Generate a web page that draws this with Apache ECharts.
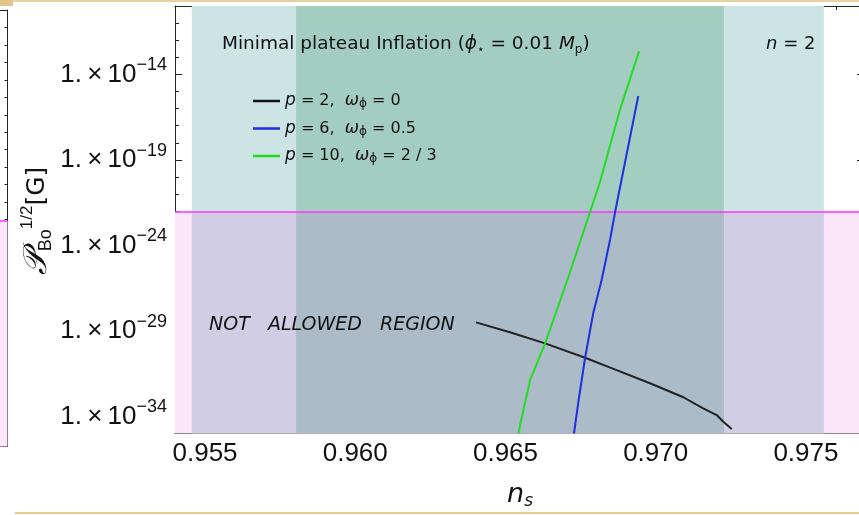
<!DOCTYPE html>
<html>
<head>
<meta charset="utf-8">
<script src="https://cdn.jsdelivr.net/npm/echarts@6/dist/echarts.min.js"></script>
<style>
html, body { margin: 0; padding: 0; background: #fff; }
#main { width: 859px; height: 515px; }
</style>
</head>
<body>
<div id="main"></div>
<script>
// tick positions
const nsMajor = [0.955, 0.960, 0.965, 0.970, 0.975];
const expMajor = [-34, -29, -24, -19, -14];

// curves: n_s and log10 of P_Bo^(1/2) [G]
const nsBlack = [0.96402, 0.96515, 0.96632, 0.96765, 0.96870, 0.96981, 0.97092, 0.97158, 0.97203, 0.97225, 0.97253];
const logPBlack = [-28.50, -29.08, -29.73, -30.57, -31.29, -32.06, -32.88, -33.53, -33.92, -34.31, -34.74];
const nsBlue = [0.96728, 0.96742, 0.96765, 0.96792, 0.96820, 0.96848, 0.96865, 0.96942];
const logPBlue = [-35.0, -33.23, -30.57, -27.97, -26.02, -23.68, -22.03, -15.26];
const nsGreen = [0.96543, 0.96562, 0.96582, 0.96632, 0.96671, 0.96706, 0.96815, 0.96879, 0.96945];
const logPGreen = [-35.0, -33.43, -31.87, -29.73, -27.78, -26.02, -20.27, -16.18, -12.63];

// shaded n_s bands and the magenta bound
const nsBandOuter = [0.95456, 0.97560];
const nsBandInner = [0.95803, 0.97227];
const logPLimit = -22.03;
// neighbouring (cropped) panel bound, in its own units
const leftPanelLimit = 12.93;

const legendText = {
  black: '{i|p} = 2,  {i|ω}{sub|ϕ} = 0',
  blue: '{i|p} = 6,  {i|ω}{sub|ϕ} = 0.5',
  green: '{i|p} = 10,  {i|ω}{sub|ϕ} = 2 / 3'
};

const frame = '#222';
const textFont = 'DejaVu Sans';
const numFont = 'Liberation Sans';

const chart = echarts.init(document.getElementById('main'), null, { renderer: 'canvas' });

const pair = (xs, ys) => xs.map((v, i) => [v, ys[i]]);

const hiddenLabel = { show: false };
const noSplit = { show: false };

const option = {
  animation: false,
  backgroundColor: '#fff',
  grid: [
    { left: 175, right: -7, top: 6, bottom: 81.5, containLabel: false, outerBoundsMode: 'none' },
    { left: 175, right: -7, top: 6, bottom: 81.5, containLabel: false, outerBoundsMode: 'none' },
    { left: -100, right: 851.5, top: 10, bottom: 68.5, containLabel: false, outerBoundsMode: 'none' }
  ],
  xAxis: [
    {
      gridIndex: 0, type: 'value', position: 'bottom', min: 0.954, max: 0.977,
      axisLine: { show: true, onZero: false, lineStyle: { color: frame, width: 1 } },
      axisTick: { show: true, inside: true, length: 7, customValues: nsMajor, lineStyle: { color: frame } },
      axisLabel: {
        customValues: nsMajor, formatter: v => v.toFixed(3),
        fontSize: 26, fontFamily: numFont, color: '#111', margin: 7
      },
      splitLine: noSplit
    },
    {
      gridIndex: 0, type: 'value', position: 'top', min: 0.954, max: 0.977,
      axisLine: { show: true, onZero: false, lineStyle: { color: frame, width: 1 } },
      axisTick: { show: true, inside: true, length: 7, customValues: nsMajor, lineStyle: { color: frame } },
      axisLabel: hiddenLabel, splitLine: noSplit
    },
    {
      gridIndex: 1, type: 'value', position: 'bottom', min: 0.954, max: 0.977, interval: 0.001,
      axisLine: { show: false },
      axisTick: { show: true, inside: true, length: 4, lineStyle: { color: frame } },
      axisLabel: hiddenLabel, splitLine: noSplit
    },
    {
      gridIndex: 1, type: 'value', position: 'top', min: 0.954, max: 0.977, interval: 0.001,
      axisLine: { show: false },
      axisTick: { show: true, inside: true, length: 4, lineStyle: { color: frame } },
      axisLabel: hiddenLabel, splitLine: noSplit
    },
    {
      gridIndex: 2, type: 'value', position: 'bottom', min: 0, max: 1,
      axisLine: { show: true, onZero: false, lineStyle: { color: frame } },
      axisTick: { show: false }, axisLabel: hiddenLabel, splitLine: noSplit
    },
    {
      gridIndex: 2, type: 'value', position: 'top', min: 0, max: 1,
      axisLine: { show: true, onZero: false, lineStyle: { color: frame } },
      axisTick: { show: false }, axisLabel: hiddenLabel, splitLine: noSplit
    }
  ],
  yAxis: [
    {
      gridIndex: 0, type: 'value', position: 'left', min: -35, max: -10,
      axisLine: { show: true, onZero: false, lineStyle: { color: frame, width: 1 } },
      axisTick: { show: true, inside: true, length: 7, customValues: expMajor, lineStyle: { color: frame } },
      axisLabel: {
        customValues: expMajor, margin: 8,
        formatter: v => '{a|1.\u2009×\u200910}{s|−' + Math.abs(v) + '}',
        rich: {
          a: { fontSize: 26, fontFamily: numFont, color: '#111', lineHeight: 36 },
          s: { fontSize: 18, fontFamily: numFont, color: '#111', lineHeight: 18, verticalAlign: 'top' }
        }
      },
      splitLine: noSplit
    },
    {
      gridIndex: 0, type: 'value', position: 'right', min: -35, max: -10,
      axisLine: { show: true, onZero: false, lineStyle: { color: frame, width: 1 } },
      axisTick: { show: true, inside: true, length: 9, customValues: expMajor, lineStyle: { color: frame } },
      axisLabel: hiddenLabel, splitLine: noSplit
    },
    {
      gridIndex: 1, type: 'value', position: 'left', min: -35, max: -10, interval: 1,
      axisLine: { show: false },
      axisTick: { show: true, inside: true, length: 4, lineStyle: { color: frame } },
      axisLabel: hiddenLabel, splitLine: noSplit
    },
    {
      gridIndex: 1, type: 'value', position: 'right', min: -35, max: -10, interval: 1,
      axisLine: { show: false },
      axisTick: { show: true, inside: true, length: 4, lineStyle: { color: frame } },
      axisLabel: hiddenLabel, splitLine: noSplit
    },
    {
      gridIndex: 2, type: 'value', position: 'right', min: 0, max: 25, interval: 1,
      axisLine: { show: true, onZero: false, lineStyle: { color: frame } },
      axisTick: { show: true, inside: true, length: 3, lineStyle: { color: frame } },
      axisLabel: hiddenLabel, splitLine: noSplit
    }
  ],
  legend: {
    orient: 'vertical', left: 253, top: 92,
    itemWidth: 27, itemHeight: 2.5, itemGap: 9.5, icon: 'rect',
    selectedMode: false, backgroundColor: 'transparent', padding: 0,
    data: ['black', 'blue', 'green'],
    formatter: name => legendText[name],
    textStyle: {
      fontFamily: textFont, fontSize: 16, color: '#111', lineHeight: 18,
      rich: {
        i: { fontFamily: textFont, fontSize: 17, fontStyle: 'italic', color: '#111', lineHeight: 18 },
        sub: { fontFamily: textFont, fontSize: 12, color: '#111', lineHeight: 10, verticalAlign: 'bottom' }
      }
    }
  },
  series: [
    {
      name: 'bands', type: 'line', xAxisIndex: 0, yAxisIndex: 0, data: [], z: 1, silent: true,
      markArea: {
        silent: true, z: 1,
        data: [
          [{ xAxis: 0.954, yAxis: -35, itemStyle: { color: '#fce4f9', opacity: 1 } }, { xAxis: 0.977, yAxis: logPLimit }],
          [{ xAxis: nsBandOuter[0], yAxis: logPLimit, itemStyle: { color: '#cce5e4', opacity: 1 } }, { xAxis: nsBandOuter[1], yAxis: -10 }],
          [{ xAxis: nsBandOuter[0], yAxis: -35, itemStyle: { color: '#d0cde5', opacity: 1 } }, { xAxis: nsBandOuter[1], yAxis: logPLimit }],
          [{ xAxis: nsBandInner[0], yAxis: logPLimit, itemStyle: { color: '#a4cdc1', opacity: 1 } }, { xAxis: nsBandInner[1], yAxis: -10 }],
          [{ xAxis: nsBandInner[0], yAxis: -35, itemStyle: { color: '#abbbc7', opacity: 1 } }, { xAxis: nsBandInner[1], yAxis: logPLimit }]
        ]
      },
      markLine: {
        silent: true, symbol: 'none', z: 2,
        label: { show: false },
        lineStyle: { color: '#ff33ff', width: 1.5, type: 'solid' },
        data: [{ yAxis: logPLimit }]
      }
    },
    {
      name: 'black', type: 'line', xAxisIndex: 0, yAxisIndex: 0, z: 5,
      data: pair(nsBlack, logPBlack), symbol: 'none', showSymbol: false,
      lineStyle: { color: '#222', width: 2 }, itemStyle: { color: '#111' }
    },
    {
      name: 'blue', type: 'line', xAxisIndex: 0, yAxisIndex: 0, z: 5,
      data: pair(nsBlue, logPBlue), symbol: 'none', showSymbol: false,
      lineStyle: { color: '#1f2fe0', width: 2 }, itemStyle: { color: '#1f2fe0' }
    },
    {
      name: 'green', type: 'line', xAxisIndex: 0, yAxisIndex: 0, z: 5,
      data: pair(nsGreen, logPGreen), symbol: 'none', showSymbol: false,
      lineStyle: { color: '#22dd22', width: 2 }, itemStyle: { color: '#22dd22' }
    },
    {
      name: 'leftPanel', type: 'line', xAxisIndex: 4, yAxisIndex: 4, data: [], z: 1, silent: true,
      markArea: {
        silent: true,
        data: [[{ xAxis: 0, yAxis: 0, itemStyle: { color: '#fce4f9', opacity: 1 } }, { xAxis: 1, yAxis: leftPanelLimit }]]
      },
      markLine: {
        silent: true, symbol: 'none', label: { show: false },
        lineStyle: { color: '#ff33ff', width: 1.5, type: 'solid' },
        data: [{ yAxis: leftPanelLimit }]
      }
    }
  ],
  graphic: [
    { type: 'rect', z: 100, shape: { x: 0, y: 0, width: 13, height: 6 }, style: { fill: '#e2c58d' } },
    { type: 'rect', z: 100, shape: { x: 13, y: 0, width: 846, height: 2 }, style: { fill: '#e8d1a0' } },
    { type: 'rect', z: 100, shape: { x: 15, y: 512, width: 844, height: 2 }, style: { fill: '#e6cc94' } },
    {
      type: 'text', z: 100, x: 222, y: 44,
      style: {
        text: 'Minimal plateau Inflation ({i|ϕ}{sub|⋆} = 0.01 {i|M}{sub|p})',
        fontFamily: textFont, fontSize: 18.5, fill: '#111', verticalAlign: 'middle', lineHeight: 24,
        rich: {
          i: { fontFamily: textFont, fontSize: 18.5, fontStyle: 'italic', fill: '#111', lineHeight: 24 },
          sub: { fontFamily: textFont, fontSize: 12, fill: '#111', lineHeight: 11, verticalAlign: 'bottom' }
        }
      }
    },
    {
      type: 'text', z: 100, x: 766, y: 44,
      style: {
        text: '{i|n} = 2', fontFamily: textFont, fontSize: 18, fill: '#111', verticalAlign: 'middle',
        rich: { i: { fontFamily: textFont, fontSize: 18, fontStyle: 'italic', fill: '#111' } }
      }
    },
    {
      type: 'text', z: 100, x: 209, y: 325,
      style: {
        text: 'NOT   ALLOWED   REGION', fontFamily: textFont, fontSize: 19, fontStyle: 'italic',
        fill: '#111', verticalAlign: 'middle'
      }
    },
    {
      type: 'text', z: 100, x: 520, y: 495,
      style: {
        text: '{n|n}{s|s}', align: 'center', verticalAlign: 'middle', lineHeight: 30,
        rich: {
          n: { fontFamily: 'DejaVu Sans', fontSize: 27, fontStyle: 'italic', fill: '#111', lineHeight: 30 },
          s: { fontFamily: 'DejaVu Sans', fontSize: 17, fontStyle: 'italic', fill: '#111', lineHeight: 14, verticalAlign: 'bottom' }
        }
      }
    },
    {
      type: 'text', z: 100, x: 37, y: 221, rotation: Math.PI / 2,
      style: {
        text: '{P|𝒫}{b|Bo}{u|1/2}{g|[G]}', align: 'center', verticalAlign: 'middle', lineHeight: 36,
        rich: {
          P: { fontFamily: 'DejaVu Serif', fontSize: 33, fontStyle: 'italic', fill: '#111', lineHeight: 36 },
          b: { fontFamily: numFont, fontSize: 18, fill: '#111', lineHeight: 12, verticalAlign: 'bottom' },
          u: { fontFamily: numFont, fontSize: 17, fill: '#111', lineHeight: 12, verticalAlign: 'top' },
          g: { fontFamily: 'DejaVu Sans', fontSize: 25, fill: '#111', lineHeight: 36 }
        }
      }
    }
  ]
};

chart.setOption(option);
</script>
</body>
</html>
